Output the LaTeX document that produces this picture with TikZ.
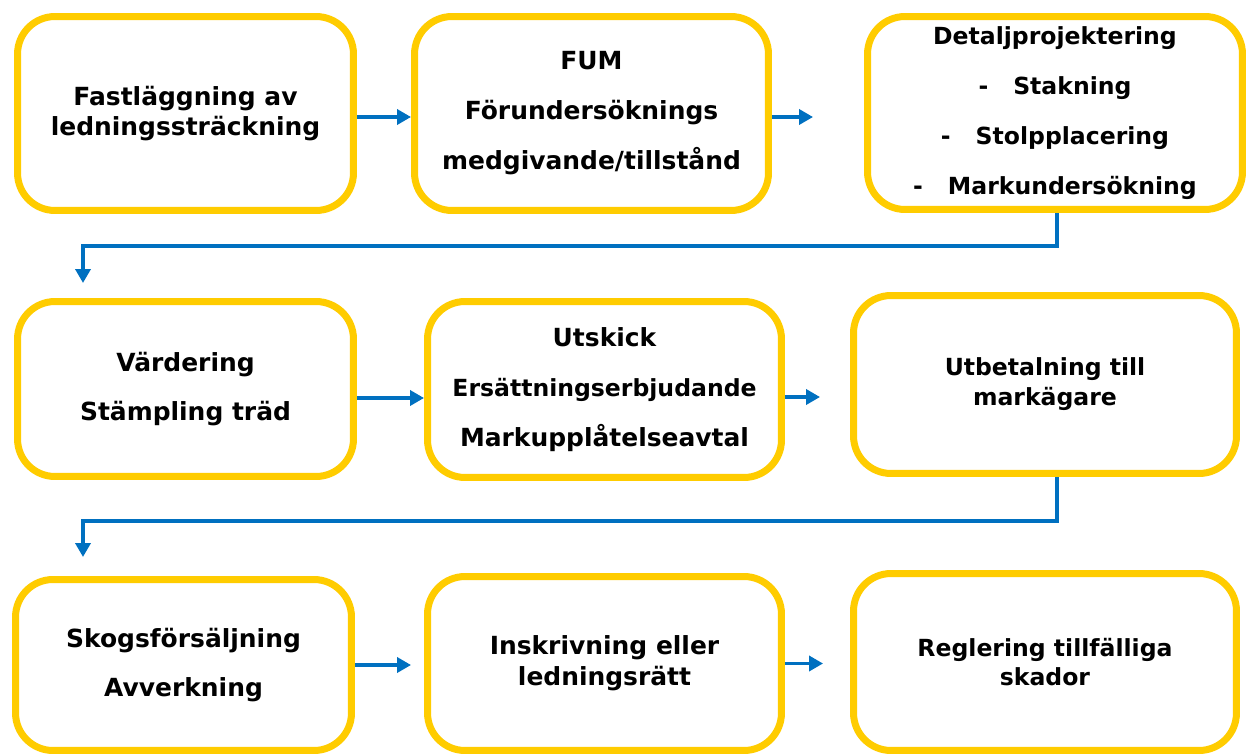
\documentclass[tikz,border=0pt]{standalone}
\usepackage{fontspec}
\setmainfont{DejaVu Sans}
\usepackage{xcolor}
\usepackage{tikz}
\usetikzlibrary{calc}
\usetikzlibrary{arrows.meta}
\definecolor{gold}{HTML}{FFCC00}
\definecolor{flowblue}{HTML}{0070C0}
\newcommand{\bigtxt}{\fontsize{14.2}{17.6}\selectfont\bfseries}
\newcommand{\smalltxt}{\fontsize{13.4}{17}\selectfont\bfseries}
\tikzstyle{stage}=[draw=gold, line width=0.14cm, rounded corners=0.75cm, fill=white, align=center, inner sep=0pt]
\tikzstyle{flow}=[draw=flowblue, line width=0.075cm, -{Triangle[length=0.28cm,width=0.3cm]}]

\begin{document}
\begin{tikzpicture}[x=0.02cm, y=-0.02cm]

                \useasboundingbox (0, 0) rectangle (1248, 754);

                % first row
                \node [stage, minimum width=6.72cm, minimum height=3.88cm, font=\bigtxt] (fast) at (185.5, 113.5)
                      {Fastläggning av\\ledningssträckning};
                \node [stage, minimum width=7.08cm, minimum height=3.88cm, font=\bigtxt] (fum) at (591.5, 113.5)
                      {FUM\\[0.38cm]Förundersöknings\\[0.38cm]medgivande/tillstånd};
                \node [stage, minimum width=7.5cm, minimum height=3.86cm, font=\smalltxt] (detalj) at (1055, 113)
                      {Detaljprojektering\\[0.4cm]-\hspace{0.5cm}Stakning\\[0.4cm]-\hspace{0.5cm}Stolpplacering\\[0.4cm]-\hspace{0.5cm}Markundersökning};

                % second row
                \node [stage, minimum width=6.72cm, minimum height=3.5cm, font=\bigtxt] (varde) at (185.5, 389)
                      {Värdering\\[0.38cm]Stämpling träd};
                \node [stage, minimum width=7.08cm, minimum height=3.52cm, font=\bigtxt] (utskick) at (604.5, 389.5)
                      {Utskick\\[0.38cm]{\smalltxt Ersättningserbjudande}\\[0.38cm]Markupplåtelseavtal};
                \node [stage, minimum width=7.66cm, minimum height=3.56cm, font=\smalltxt] (utbet) at (1045, 384.5)
                      {Utbetalning till\\markägare};

                % third row
                \node [stage, minimum width=6.72cm, minimum height=3.42cm, font=\bigtxt] (skog) at (183.5, 665)
                      {Skogsförsäljning\\[0.38cm]Avverkning};
                \node [stage, minimum width=7.08cm, minimum height=3.48cm, font=\bigtxt] (inskr) at (604.5, 663.5)
                      {Inskrivning eller\\ledningsrätt};
                \node [stage, minimum width=7.66cm, minimum height=3.54cm, font=\smalltxt] (regl) at (1045, 662)
                      {Reglering tillfälliga\\skador};

                \coordinate (bend1) at (83, 246);
                \coordinate (end1) at (83, 283);
                \coordinate (bend2) at (83, 521);
                \coordinate (end2) at (83, 557);

                \draw [flow] ([yshift=-0.07cm]fast.east) -- ([yshift=-0.07cm]fast.east -| fum.west);
                \draw [flow, shorten >=1.02cm] ([yshift=-0.07cm]fum.east) -- ([yshift=-0.07cm]fum.east -| detalj.west);
                \draw [flow] ([xshift=0.04cm]detalj.south) |- (bend1) -- (end1);

                \draw [flow] ([yshift=-0.18cm]varde.east) -- ([yshift=-0.18cm]varde.east -| utskick.west);
                \draw [flow, shorten >=0.6cm] ([yshift=-0.15cm]utskick.east) -- ([yshift=-0.15cm]utskick.east -| utbet.west);
                \draw [flow] ([xshift=0.24cm]utbet.south) |- (bend2) -- (end2);

                \draw [flow, shorten >=0.26cm] (skog.east) -- (skog.east -| inskr.west);
                \draw [flow, shorten >=0.54cm] (inskr.east) -- (inskr.east -| regl.west);

            \end{tikzpicture}
\end{document}
